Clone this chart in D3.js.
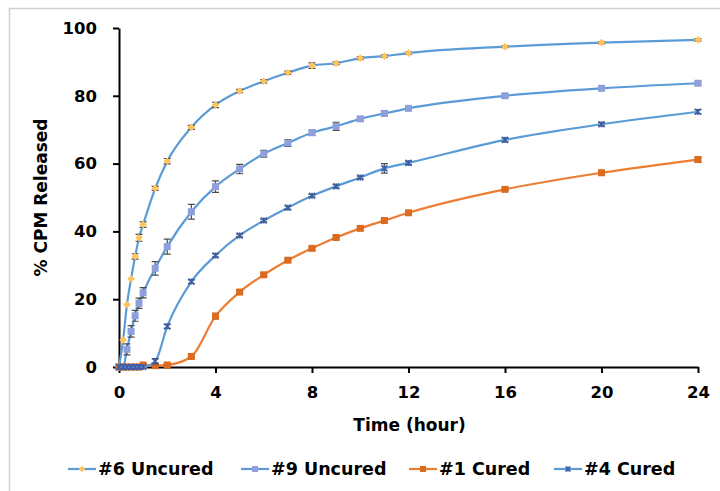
<!DOCTYPE html>
<html>
<head>
<meta charset="utf-8">
<script src="https://cdn.jsdelivr.net/npm/d3@7"></script>
<style>
  html, body { margin: 0; padding: 0; background: #fff; }
  svg { display: block; }
  text { font-family: "DejaVu Sans", sans-serif; font-weight: bold; fill: #000; }
</style>
</head>
<body>
<svg id="chart" width="720" height="491"></svg>
<script>
// Sampling times (hours)
const times = [0, 0.17, 0.33, 0.5, 0.67, 0.83, 1, 1.5, 2, 3, 4, 5, 6, 7, 8, 9, 10, 11, 12, 16, 20, 24];

// Cumulative % CPM released for each formulation
const uncured6 = [0, 8.0, 18.4, 26.0, 32.6, 38.1, 42.0, 52.7, 60.7, 70.7, 77.3, 81.4, 84.3, 86.8, 88.9, 89.6, 91.1, 91.7, 92.6, 94.5, 95.7, 96.5];
const uncured9 = [0, 0, 5.2, 10.5, 15.1, 18.8, 21.9, 29.1, 35.5, 45.8, 53.2, 58.4, 62.9, 66.1, 69.1, 71.0, 73.2, 74.8, 76.3, 80.0, 82.2, 83.7];
const cured1   = [0, 0, 0, 0, 0, 0, 0.6, 0.4, 0.6, 3.1, 15.0, 22.1, 27.2, 31.5, 35.0, 38.2, 40.9, 43.2, 45.5, 52.4, 57.3, 61.2];
const cured4   = [0, 0, 0, 0, 0, 0, 0, 1.7, 12.0, 25.2, 32.9, 38.8, 43.2, 47.0, 50.5, 53.3, 55.9, 58.6, 60.2, 67.0, 71.6, 75.3];

// Standard deviations (error bars)
const err6 = [0, 0, 0, 0, 0.8, 1.0, 0.8, 0.6, 0.8, 0.6, 0.8, 0.5, 0.5, 0.5, 0.8, 0.4, 0.4, 0.4, 0.3, 0.3, 0.3, 0.4];
const err9 = [0, 0, 1.6, 1.7, 1.6, 1.5, 1.5, 2.0, 2.2, 2.2, 1.7, 1.4, 1.0, 1.0, 0.8, 1.2, 0.5, 0.8, 0.5, 0.5, 0.5, 0.5];
const err1 = [0, 0, 0, 0, 0, 0, 0.3, 0.3, 0.3, 0.5, 0.8, 0.5, 0.4, 0.4, 0.4, 0.4, 0.4, 0.5, 0.4, 0.4, 0.4, 0.6];
const err4 = [0, 0, 0, 0, 0, 0, 0, 0.8, 0.6, 0.5, 0.5, 0.4, 0.4, 0.5, 0.4, 0.5, 0.4, 1.4, 0.5, 0.6, 0.5, 0.6];

const seriesNames = ["#6 Uncured", "#9 Uncured", "#1 Cured", "#4 Cured"];
const xTicks = [0, 4, 8, 12, 16, 20, 24];
const yTicks = [0, 20, 40, 60, 80, 100];

const styles = [
  { line: "#5B9BD5", fill: "#FFC35C", marker: "diamond" },
  { line: "#5B9BD5", fill: "#8E9FDB", marker: "square" },
  { line: "#ED7D31", fill: "#DD6A1E", marker: "square" },
  { line: "#5B9BD5", fill: "#3E5FA8", marker: "cross" }
];

const series = [uncured6, uncured9, cured1, cured4].map((vals, i) => ({
  name: seriesNames[i],
  style: styles[i],
  points: times.map((t, j) => ({ t, v: vals[j], e: [err6, err9, err1, err4][i][j] }))
}));

const svg = d3.select("#chart");

// outer chart frame
svg.append("rect")
  .attr("x", 9.5).attr("y", 8.5)
  .attr("width", 740).attr("height", 520)
  .attr("fill", "none").attr("stroke", "#d0d0d0").attr("stroke-width", 1.5);

const x = d3.scaleLinear().domain([0, 24]).range([119, 698]);
const y = d3.scaleLinear().domain([0, 100]).range([367, 28]);

// axes
const xAxis = svg.append("g").attr("transform", `translate(0,${y(0)})`)
  .call(d3.axisBottom(x).tickValues(xTicks).tickSize(6).tickSizeOuter(0).tickPadding(13));
const yAxis = svg.append("g").attr("transform", `translate(${x(0)},0)`)
  .call(d3.axisLeft(y).tickValues(yTicks).tickSize(6).tickSizeOuter(0).tickPadding(16));

[xAxis, yAxis].forEach(g => {
  g.select(".domain").attr("stroke", "#000").attr("stroke-width", 2);
  g.selectAll(".tick line").attr("stroke", "#000").attr("stroke-width", 2);
  g.selectAll(".tick text").style("font-size", "16.5px").style("font-weight", "bold")
    .style("font-family", "'DejaVu Sans', sans-serif").attr("fill", "#000");
});

// axis titles
svg.append("text")
  .attr("x", (x(0) + x(24)) / 2 + 1).attr("y", 431)
  .attr("text-anchor", "middle").style("font-size", "17px")
  .text("Time (hour)");
svg.append("text")
  .attr("transform", `translate(47,${(y(0) + y(100)) / 2}) rotate(-90)`)
  .attr("text-anchor", "middle").style("font-size", "17px")
  .text("% CPM Released");

const line = d3.line().x(d => x(d.t)).y(d => y(d.v)).curve(d3.curveMonotoneX);

function drawMarker(g, type, cx, cy, fill, size) {
  if (type === "square") {
    g.append("rect").attr("x", cx - size / 2).attr("y", cy - size / 2)
      .attr("width", size).attr("height", size).attr("fill", fill);
  } else if (type === "diamond") {
    const s = size / 2 + 0.8;
    g.append("path")
      .attr("d", `M${cx},${cy - s}L${cx + s},${cy}L${cx},${cy + s}L${cx - s},${cy}Z`)
      .attr("fill", fill);
  } else {
    const s = size / 2;
    g.append("path")
      .attr("d", `M${cx - s},${cy - s}L${cx + s},${cy + s}M${cx - s},${cy + s}L${cx + s},${cy - s}M${cx},${cy - s}L${cx},${cy + s}`)
      .attr("stroke", fill).attr("stroke-width", 1.6).attr("fill", "none");
  }
}

const plot = svg.append("g");
series.forEach(s => {
  const g = plot.append("g");
  g.append("path").datum(s.points).attr("d", line)
    .attr("fill", "none").attr("stroke", s.style.line).attr("stroke-width", 2.2);
  // error bars
  s.points.filter(p => p.e > 0).forEach(p => {
    const cx = x(p.t), y0 = y(p.v - p.e), y1 = y(p.v + p.e);
    g.append("path")
      .attr("d", `M${cx},${y0}L${cx},${y1}M${cx - 3.5},${y0}L${cx + 3.5},${y0}M${cx - 3.5},${y1}L${cx + 3.5},${y1}`)
      .attr("stroke", "#4d4d4d").attr("stroke-width", 1.2).attr("fill", "none");
  });
  s.points.forEach(p => drawMarker(g, s.style.marker, x(p.t), y(p.v), s.style.fill,
    s.style.marker === "square" ? 7 : 6));
});

// legend
const legendX = [68, 241, 409, 554];
const legend = svg.append("g");
series.forEach((s, i) => {
  const lx = legendX[i], ly = 469;
  legend.append("line").attr("x1", lx).attr("x2", lx + 28).attr("y1", ly).attr("y2", ly)
    .attr("stroke", s.style.line).attr("stroke-width", 2.2);
  drawMarker(legend, s.style.marker, lx + 14, ly, s.style.fill, s.style.marker === "square" ? 6 : 5);
  legend.append("text").attr("x", lx + 30).attr("y", ly + 6)
    .style("font-size", "17.5px").text(s.name);
});
</script>
</body>
</html>
